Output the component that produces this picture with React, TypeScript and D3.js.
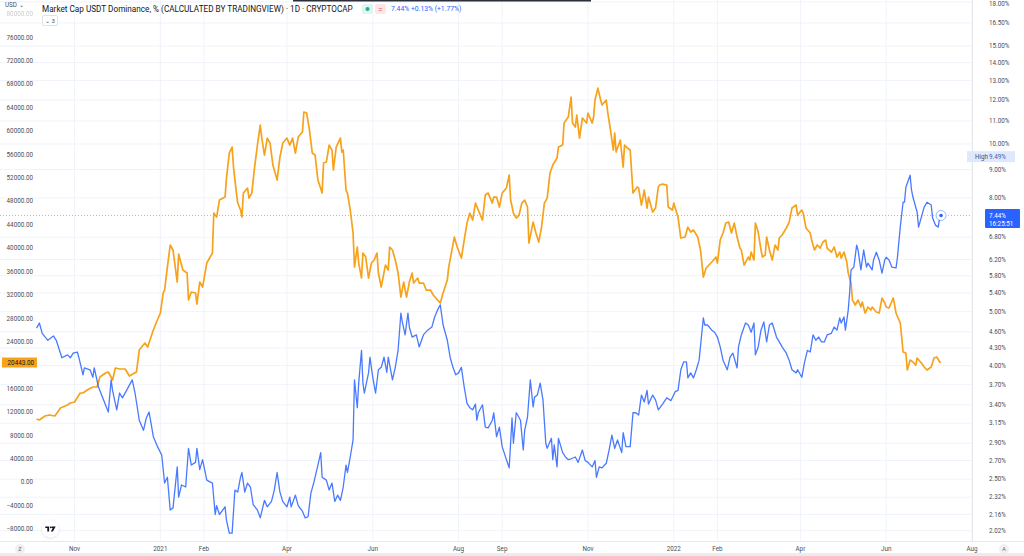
import React from "react";
import * as d3 from "d3";

// ---- data (day index = days since 2020-10-01) ----
const btcDay = [4,6,10,13,17,21,26,28,31,35,37,40,44,47,49,53,55,58,60,63,67,70,75,77,81,83,87,89,92,94,95,97,99,101,104,105,108,111,112,114,117,118,120,122,125,129,130,132,134,138,139,141,143,144,146,147,149,150,151,154,155,157,159,161,163,164,166,168,170,172,175,177,179,182,184,186,188,190,193,194,196,198,200,202,204,207,208,210,212,214,215,217,220,221,222,224,225,227,229,230,232,233,235,236,238,240,242,244,246,247,249,252,254,255,257,259,261,263,265,267,269,271,272,275,276,279,281,284,286,289,291,293,296,297,299,301,303,306,308,310,312,314,316,318,321,323,325,328,329,331,333,335,338,340,341,343,345,347,349,351,353,354,357,359,361,363,365,367,369,371,374,375,378,379,382,384,385,387,388,390,392,395,396,399,400,401,403,405,406,409,410,412,414,415,416,419,421,422,424,426,428,431,432,434,436,438,439,442,444,446,447,449,452,453,456,457,458,460,462,465,467,469,471,474,476,478,480,482,484,487,488,490,492,494,496,498,500,502,504,505,507,510,511,512,514,515,517,519,520,522,523,525,527,529,531,532,534,537,539,541,544,545,548,549,551,554,555,557,559,561,563,565,566,569,571,573,575,576,578,580,581,583,584,586,588,590,591,593,595,597,598,601,603,605,607,608,610,613,614,615,618,619,620,622,623,625,627,629,630,633,635,637,640,642,644,646,647];
const btcPrice = [10795,10624,11307,11478,11307,12673,13186,13527,13698,15235,15235,15748,16260,16260,17968,18651,18822,17456,19505,19334,19334,18139,18822,22580,23775,23092,25996,27191,28899,32315,32828,36756,40514,39660,34194,38977,36244,35731,31120,32486,32315,30437,34194,33340,37439,39147,45979,45296,48200,48712,51958,56227,57252,53836,49566,47687,46492,45296,49395,50249,48541,49395,53836,57594,61010,58960,55886,58789,57935,54178,51616,55544,57935,58789,57594,58789,56227,58960,59814,63230,63059,60156,56227,55886,51616,49395,54519,54690,57594,56740,53324,57252,58789,56398,56740,49908,49395,46492,42563,36756,40172,37439,34877,39147,38464,34877,37439,37952,39147,35731,33340,37098,36244,40172,39660,37952,35731,31632,34194,31632,34194,35731,34023,34877,34023,34023,32828,32828,31974,31120,30607,32315,34536,36756,39318,41880,40172,38293,41368,44271,45979,44784,47687,46492,44784,49054,49395,47687,48712,48712,47004,49395,50249,52470,48200,45979,45125,45638,47687,48200,47004,40855,44442,42563,41026,43588,47687,48541,52811,54178,55373,57252,57594,61351,62376,65792,61351,60668,62718,58789,62205,61351,63059,61351,62376,65280,67329,65280,64426,65280,63230,60156,56740,59643,56398,58448,53836,57594,57081,56740,49395,50420,50249,47346,49908,46833,48712,46150,46833,50420,50762,50933,50762,47004,46492,47687,46833,45296,41710,41880,43588,42734,43076,41880,39660,35048,36585,37098,37610,38464,37439,41368,42563,44271,44442,42563,44271,41880,40001,39660,37098,38464,37952,39318,37952,44271,42734,39660,38464,38806,41880,39660,37952,40514,39660,41710,42222,43417,44442,46833,47345,45637,46492,45979,43417,42563,41368,39660,40514,39996,41026,41368,39996,39318,40172,38464,39318,38293,39318,37610,35731,34023,31120,30266,31120,29924,30778,28899,29924,29412,29924,29070,28899,31461,30607,29924,29753,31461,30266,28899,27191,24800,22238,22067,19164,20872,20530,19993,21213,20359,19676,19164,19676,21213,21384,20530,20443];

const usdtDay = [4,6,8,12,16,18,22,26,28,30,33,34,37,38,42,44,45,48,51,55,57,58,61,63,65,68,72,74,77,80,82,84,87,90,93,95,97,99,101,104,105,107,110,112,114,117,118,120,122,125,129,131,132,134,138,139,141,143,145,147,149,150,152,154,156,158,161,163,166,168,171,173,175,177,179,182,184,185,188,190,193,195,197,199,201,204,206,207,210,212,214,216,218,220,222,224,225,227,229,230,232,233,235,236,237,240,241,243,245,247,249,251,253,254,257,259,261,263,264,266,268,269,271,274,276,279,282,285,287,289,291,293,296,298,300,302,304,306,308,310,312,314,316,317,318,321,323,325,328,329,331,333,335,338,340,342,343,345,346,348,350,351,353,355,357,358,360,362,364,366,367,370,371,372,374,375,378,380,382,384,387,389,392,394,396,399,401,402,404,406,409,411,413,415,417,420,421,423,426,428,430,432,434,436,438,439,442,444,446,449,452,455,458,460,462,464,466,467,469,471,473,475,478,479,481,484,486,488,490,492,495,497,499,502,503,505,508,510,512,514,515,517,519,521,523,525,527,530,532,534,537,539,541,544,545,548,550,552,554,556,558,560,562,564,566,569,571,573,575,576,578,579,581,582,583,585,587,588,590,592,594,595,598,599,601,603,605,607,608,610,612,615,616,618,620,621,622,623,625,626,627,630,631,633,635,637,640,641,643,645,646,647];
const usdtDom = [4.67,4.77,4.57,4.44,4.52,4.44,4.13,4.18,4.13,4.21,4.23,4.14,3.85,3.96,3.93,3.81,3.96,3.66,3.5,3.3,3.77,3.61,3.33,3.57,3.5,3.61,3.77,3.57,3.19,3.06,3.22,3.3,2.98,2.86,2.76,2.46,2.52,2.2,2.22,2.63,2.32,2.44,2.42,2.84,2.65,2.68,2.84,2.6,2.71,2.49,2.46,2.16,2.24,2.16,2.23,2.11,2.0,2.0,2.39,2.37,2.52,2.57,2.37,2.46,2.42,2.25,2.2,2.13,2.29,2.23,2.28,2.39,2.57,2.37,2.28,2.23,2.32,2.23,2.34,2.24,2.19,2.13,2.14,2.36,2.46,2.65,2.79,2.52,2.49,2.39,2.46,2.28,2.34,2.29,2.42,2.65,2.57,2.74,2.94,3.77,3.36,3.72,4.26,3.72,3.57,3.88,4.14,3.81,3.57,3.93,3.97,4.14,3.89,4.14,3.77,3.97,4.26,4.97,4.79,4.54,4.97,4.69,4.5,4.54,4.32,4.54,4.63,4.69,4.89,5.03,5.14,4.73,4.44,4.14,3.97,3.85,3.88,3.97,3.66,3.42,3.36,3.33,3.41,3.19,3.29,3.4,3.1,3.09,3.19,3.29,2.98,3.1,2.86,2.71,2.62,3.22,2.9,3.29,3.26,3.19,2.82,3.06,3.23,3.77,3.37,3.51,3.54,3.72,3.47,2.9,2.84,2.96,2.71,2.88,2.63,2.96,2.79,2.74,2.71,2.72,2.74,2.68,2.82,2.7,2.68,2.63,2.7,2.52,2.63,2.62,2.67,2.82,3.0,2.84,2.94,2.79,3.03,2.86,2.86,3.29,3.29,3.26,3.54,3.44,3.61,3.41,3.54,3.47,3.33,3.41,3.5,3.46,3.59,3.61,3.93,4.06,4.06,3.8,3.88,3.8,3.93,4.09,4.87,4.73,4.73,4.63,4.59,4.5,4.32,4.09,3.93,4.14,4.21,3.96,4.32,4.54,4.77,4.73,4.59,4.77,4.18,4.32,4.63,4.79,4.41,4.73,4.77,4.5,4.41,4.32,4.21,4.09,3.93,3.88,3.93,3.81,4.06,4.26,4.23,4.54,4.44,4.5,4.41,4.41,4.54,4.57,4.69,4.63,4.87,4.77,4.89,4.63,5.03,5.4,5.94,6.01,6.58,6.45,5.94,6.45,6.01,6.11,5.94,6.19,6.39,6.19,5.86,6.19,6.26,6.19,6.01,5.99,6.26,7.09,7.86,7.86,8.36,8.5,8.79,8.26,8.03,7.54,7.09,7.39,7.7,7.86,7.77,7.36,7.15,7.09,7.36,7.44];

const leftTicks = [-8000,-4000,0,4000,8000,12000,16000,24000,28000,32000,36000,40000,44000,48000,52000,56000,60000,64000,68000,72000,76000];
const rightTicks = [18,16.5,15,14,13,12,11,10,9,8,6.8,6.2,5.8,5.4,5,4.6,4.3,4,3.7,3.4,3.15,2.9,2.7,2.5,2.32,2.16,2.02];
const timeTicks: [string, string][] = [
  ["2020-11-01","Nov"],["2021-01-01","2021"],["2021-02-01","Feb"],["2021-04-01","Apr"],["2021-06-01","Jun"],
  ["2021-08-01","Aug"],["2021-09-01","Sep"],["2021-11-01","Nov"],["2022-01-01","2022"],["2022-02-01","Feb"],
  ["2022-04-01","Apr"],["2022-06-01","Jun"],["2022-08-01","Aug"],
];
const titleText = "Market Cap USDT Dominance, % (CALCULATED BY TRADINGVIEW) · 1D · CRYPTOCAP";
const lastDomText = "7.44%";
const changeText = "7.44%  +0.13%  (+1.77%)";
const timerText = "16:25:51";
const highValue = 9.49;
const lastBtcText = "20443.00";

const W = 1024, H = 556;
const PLOT_R = 972, PLOT_B = 541;
const ORANGE = "#f7a21b";
const BLUE = "#2962ff";
const FONT = "Roboto, 'Noto Sans', sans-serif";

const dayToDate = (d: number) => new Date(Date.UTC(2020, 9, 1 + d));

export default function App() {
  const x = d3.scaleUtc().domain([new Date(Date.UTC(2020, 8, 9)), new Date(Date.UTC(2022, 7, 1))]).range([0, PLOT_R]);
  const yL = d3.scaleLinear().domain([0, 80000]).range([482.2, 13.9]);
  const yR = d3.scaleLog().domain([2.02, 10]).range([530.7, 144]);

  const btc = btcDay.map((d, i) => [dayToDate(d), btcPrice[i]] as [Date, number]);
  const usdt = usdtDay.map((d, i) => [dayToDate(d), usdtDom[i]] as [Date, number]);
  const btcLine = d3.line<[Date, number]>().x(p => x(p[0])).y(p => yL(p[1]));
  const usdtLine = d3.line<[Date, number]>().x(p => x(p[0])).y(p => yR(p[1]));

  const lastU = usdt[usdt.length - 1];
  const lastB = btc[btc.length - 1];
  const yLast = yR(lastU[1]);

  return (
    <svg width={W} height={H} style={{ position: "absolute", left: 0, top: 0, background: "#fff" }} fontFamily={FONT}>
      <rect x={0} y={0} width={W} height={H} fill="#fff" />
      <defs>
        <clipPath id="plot"><rect x={0} y={0} width={PLOT_R} height={PLOT_B} /></clipPath>
        <filter id="sh" x="-50%" y="-50%" width="200%" height="200%">
          <feDropShadow dx="0" dy="0.5" stdDeviation="1" floodColor="#000" floodOpacity="0.18" />
        </filter>
      </defs>
      {/* grid */}
      {rightTicks.map(t => (
        <line key={"gh" + t} x1={0} x2={PLOT_R} y1={yR(t)} y2={yR(t)} stroke="#f0f3fa" strokeWidth={1} />
      ))}
      {timeTicks.map(([d]) => (
        <line key={"gv" + d} x1={x(new Date(d))} x2={x(new Date(d))} y1={0} y2={PLOT_B} stroke="#f0f3fa" strokeWidth={1} />
      ))}
      {/* scale borders */}
      <line x1={PLOT_R + 0.5} x2={PLOT_R + 0.5} y1={0} y2={PLOT_B} stroke="#e6e8ee" />
      <line x1={0} x2={W} y1={PLOT_B + 0.5} y2={PLOT_B + 0.5} stroke="#e6e8ee" />
      {/* last value dotted line */}
      <line x1={0} x2={PLOT_R} y1={yLast} y2={yLast} stroke={BLUE} strokeOpacity={0.55} strokeWidth={0.8} strokeDasharray="1 2" />
      {/* series */}
      <g clipPath="url(#plot)">
        <path d={btcLine(btc) || ""} fill="none" stroke={ORANGE} strokeWidth={1.7} strokeLinejoin="round" />
        <path d={usdtLine(usdt) || ""} fill="none" stroke={BLUE} strokeOpacity={0.85} strokeWidth={1.3} strokeLinejoin="round" />
      </g>
      <circle cx={x(lastU[0])} cy={yLast} r={5} fill="#fff" stroke={BLUE} strokeOpacity={0.45} strokeWidth={1} />
      <circle cx={x(lastU[0])} cy={yLast} r={1.8} fill={BLUE} />

      {/* left axis */}
      {leftTicks.map(t => (
        <text key={"l" + t} x={33} y={yL(t)} dy="0.35em" textAnchor="end" fontSize={6.3} fill="#4a4e59">
          {d3.format(".2f")(t)}
        </text>
      ))}
      <text x={33} y={yL(80000)} dy="0.35em" textAnchor="end" fontSize={6.3} fill="#4a4e59" opacity={0.3}>
        {d3.format(".2f")(80000)}
      </text>
      <text x={5} y={7} fontSize={6.3} fill="#4a4e59">USD ⌄</text>
      <rect x={2} y={yL(lastB[1]) - 5} width={35} height={10} fill={ORANGE} />
      <text x={34} y={yL(lastB[1])} dy="0.35em" textAnchor="end" fontSize={6.3} fill="#131722">{lastBtcText}</text>

      {/* right axis */}
      {rightTicks.map(t => (
        <text key={"r" + t} x={989} y={Math.max(yR(t), 4)} dy="0.35em" fontSize={6.3} fill="#4a4e59">
          {d3.format(".2f")(t) + "%"}
        </text>
      ))}
      <rect x={967} y={yR(highValue) - 5.5} width={48} height={11} fill="#dfe9fd" />
      <text x={975} y={yR(highValue)} dy="0.35em" fontSize={6.3} fill="#4a4e59">High</text>
      <text x={989} y={yR(highValue)} dy="0.35em" fontSize={6.3} fill="#3d5fb0">{d3.format(".2f")(highValue) + "%"}</text>
      <rect x={985} y={yLast - 6.5} width={35} height={19} fill={BLUE} rx={1} />
      <text x={989} y={yLast} dy="0.35em" fontSize={6.3} fill="#fff">{lastDomText}</text>
      <text x={989} y={yLast + 8.5} dy="0.35em" fontSize={6.3} fill="#fff">{timerText}</text>

      {/* time axis */}
      {timeTicks.map(([d, lab]) => (
        <text key={"t" + d} x={x(new Date(d))} y={549} dy="0.35em" textAnchor="middle" fontSize={6.3} fill="#4a4e59">{lab}</text>
      ))}
      <circle cx={20} cy={549} r={5} fill="#eef0f4" />
      <text x={20} y={549} dy="0.35em" textAnchor="middle" fontSize={5.5} fill="#6a6d78">Z</text>
      <circle cx={1004} cy={549} r={5} fill="#eef0f4" />
      <text x={1004} y={549} dy="0.35em" textAnchor="middle" fontSize={5.5} fill="#6a6d78">A</text>
      <rect x={0} y={553} width={W} height={3} fill="#ececec" />

      {/* header */}
      <rect x={293} y={0} width={298} height={1.5} fill="#2a2e39" />
      <text x={42} y={9} dy="0.35em" fontSize={8.2} fill="#131722">{titleText}</text>
      <rect x={362} y={4} width={11} height={10} rx={2} fill="#e0f5ee" />
      <circle cx={367.5} cy={9} r={2} fill="#22ab94" />
      <rect x={375} y={4} width={11} height={10} rx={2} fill="#fde6ea" />
      <text x={380.5} y={9} dy="0.35em" textAnchor="middle" fontSize={8} fill="#f23645">=</text>
      <text x={391} y={9} dy="0.35em" fontSize={6.8} fill={BLUE}>{changeText}</text>
      <rect x={42.5} y={15.5} width={15} height={10} rx={1.5} fill="#fff" stroke="#e0e3eb" />
      <text x={50} y={20.5} dy="0.35em" textAnchor="middle" fontSize={6} fill="#4a4e59">⌄ 3</text>

      {/* logo */}
      <g transform="translate(50.5,529)">
        <circle r={8.5} fill="#fff" filter="url(#sh)" />
        <path d="M-5.2,-2.6 H-1.4 V2.6 H-3.2 V-0.9 H-5.2 Z" fill="#131722" />
        <circle cx={0.2} cy={-1.7} r={0.9} fill="#131722" />
        <path d="M1.0,-2.6 H5.2 L2.4,2.6 H0.4 L2.2,-0.9 H1.0 Z" fill="#131722" />
      </g>
    </svg>
  );
}
